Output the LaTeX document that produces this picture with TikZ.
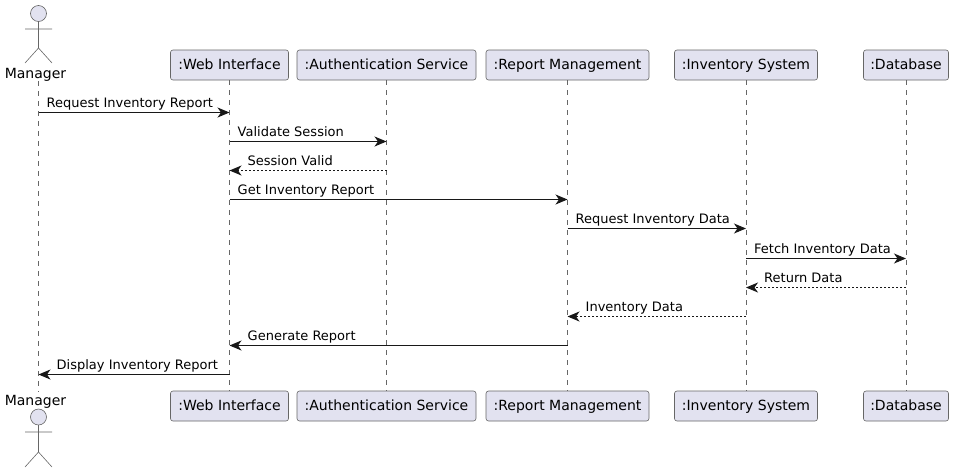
\documentclass[tikz,border=0pt]{standalone}
\usepackage{fontspec}
\setmainfont{DejaVu Sans}
\usetikzlibrary{arrows.meta}
\definecolor{partFill}{HTML}{E2E2F0}
\definecolor{lineDark}{HTML}{181818}
\definecolor{lineSoft}{HTML}{666666}
\tikzset{
  partbox/.style={draw=lineSoft, fill=partFill, line width=0.6pt, rounded corners=2.5pt, minimum height=30pt, inner sep=0pt, text depth=1pt, font=\fontsize{14}{16}\selectfont},
  actorlabel/.style={inner sep=0pt, font=\fontsize{14}{16}\selectfont},
  actorline/.style={draw=lineSoft, line width=0.6pt},
  lifeline/.style={draw=lineSoft, line width=0.6pt, dash pattern=on 5pt off 5pt},
  msg/.style={draw=lineDark, line width=1pt, -{Stealth[length=12pt, width=10pt, inset=3.5pt]}},
  reply/.style={msg, dash pattern=on 2pt off 2pt},
  msglabel/.style={anchor=base west, inner sep=0pt, xshift=8pt, yshift=5.5pt, font=\fontsize{13}{15}\selectfont},
  backlabel/.style={msglabel, xshift=10pt}
}
\begin{document}
\begin{tikzpicture}[x=1pt, y=-1pt]
\useasboundingbox (0,0) rectangle (955,472);

% Top row
\node[actorlabel] (mgrTop) at (35.5,74.5) {Manager};
\node[partbox, minimum width=118pt] (webTop) at (229.5,65) {:Web Interface};
\node[partbox, minimum width=179pt] (authTop) at (386.5,65) {:Authentication Service};
\node[partbox, minimum width=163pt] (repTop) at (567.5,65) {:Report Management};
\node[partbox, minimum width=143pt] (invTop) at (746,65) {:Inventory System};
\node[partbox, minimum width=85pt] (dbTop) at (906,65) {:Database};

% Bottom row
\node[actorlabel] (mgrBot) at (35.5,401.5) {Manager};
\node[partbox, minimum width=118pt] (webBot) at (229.5,406) {:Web Interface};
\node[partbox, minimum width=179pt] (authBot) at (386.5,406) {:Authentication Service};
\node[partbox, minimum width=163pt] (repBot) at (567.5,406) {:Report Management};
\node[partbox, minimum width=143pt] (invBot) at (746,406) {:Inventory System};
\node[partbox, minimum width=85pt] (dbBot) at (906,406) {:Database};

% Actor figures
\draw[actorline, fill=partFill] (38.5,13.5) circle (8);
\draw[actorline] (38.5,21.5) -- (38.5,48) (25,29) -- (52,29) (25,63) -- (38.5,48) -- (52,63);
\draw[actorline, fill=partFill] (38.5,417) circle (8);
\draw[actorline] (38.5,425) -- (38.5,452) (25,432) -- (52,432) (25,467) -- (38.5,452) -- (52,467);

% Lifelines
\coordinate (mgrStart) at (38.5,81);
\coordinate (mgrEnd) at (38.5,392);
\draw[lifeline] (mgrStart) -- (mgrEnd);
\draw[lifeline] (webTop.south) -- (webBot.north);
\draw[lifeline] (authTop.south) -- (authBot.north);
\draw[lifeline] (repTop.south) -- (repBot.north);
\draw[lifeline] (invTop.south) -- (invBot.north);
\draw[lifeline] (dbTop.south) -- (dbBot.north);

% Messages
\draw[msg] (mgrStart |- 0,112.5) -- (webTop |- 0,112.5);
\node[msglabel] (m1) at (mgrStart |- 0,112.5) {Request Inventory Report};
\draw[msg] (webTop |- 0,141.5) -- (authTop |- 0,141.5);
\node[msglabel] (m2) at (webTop |- 0,141.5) {Validate Session};
\draw[reply] (authTop |- 0,170.5) -- (webTop |- 0,170.5);
\node[backlabel] (m3) at (webTop |- 0,170.5) {Session Valid};
\draw[msg] (webTop |- 0,199.5) -- (repTop |- 0,199.5);
\node[msglabel] (m4) at (webTop |- 0,199.5) {Get Inventory Report};
\draw[msg] (repTop |- 0,228.5) -- (invTop |- 0,228.5);
\node[msglabel] (m5) at (repTop |- 0,228.5) {Request Inventory Data};
\draw[msg] (invTop |- 0,258.5) -- (dbTop |- 0,258.5);
\node[msglabel] (m6) at (invTop |- 0,258.5) {Fetch Inventory Data};
\draw[reply] (dbTop |- 0,287.5) -- (invTop |- 0,287.5);
\node[backlabel] (m7) at (invTop |- 0,287.5) {Return Data};
\draw[reply] (invTop |- 0,316.5) -- (repTop |- 0,316.5);
\node[backlabel] (m8) at (repTop |- 0,316.5) {Inventory Data};
\draw[msg] (repTop |- 0,345.5) -- (webTop |- 0,345.5);
\node[backlabel] (m9) at (webTop |- 0,345.5) {Generate Report};
\draw[msg] (webTop |- 0,374.5) -- (mgrStart |- 0,374.5);
\node[backlabel] (m10) at (mgrStart |- 0,374.5) {Display Inventory Report};
\end{tikzpicture}
\end{document}
